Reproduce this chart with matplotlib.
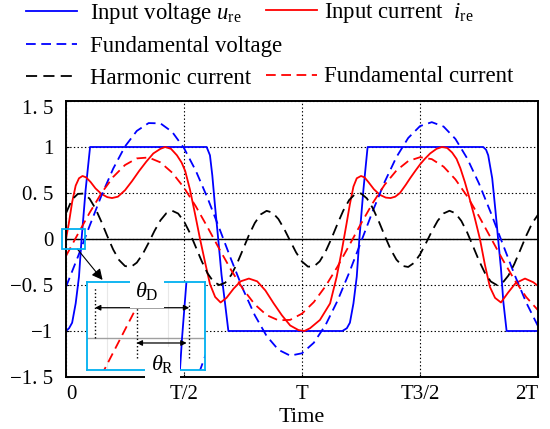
import numpy as np
import matplotlib
matplotlib.use('Agg')
import matplotlib.pyplot as plt
from matplotlib.lines import Line2D
from matplotlib.patches import Rectangle
from matplotlib.transforms import ScaledTranslation

plt.rcParams['font.family'] = ['Liberation Serif', 'DejaVu Serif']
plt.rcParams['mathtext.fontset'] = 'custom'
plt.rcParams['mathtext.rm'] = 'Liberation Serif'
plt.rcParams['mathtext.it'] = 'Liberation Serif:italic'
plt.rcParams['lines.scale_dashes'] = False

# time axis in units of T
x_ticks = [0, 0.5, 1, 1.5, 2]
x_labels = ['0', 'T/2', 'T', 'T3/2', '2T']
y_ticks = [-1.5, -1, -0.5, 0, 0.5, 1, 1.5]
y_labels = ['\u22121. 5', '\u22121', '\u22120. 5', '0', '0. 5', '1', '1. 5']

# input voltage u_re (trapezoid)
t_u = [0.000, 0.013, 0.026, 0.041, 0.055, 0.066, 0.083, 0.102,
       0.596, 0.610, 0.620, 0.631, 0.645, 0.659, 0.673, 0.688,
       1.171, 1.190, 1.203, 1.218, 1.232, 1.243, 1.260, 1.278,
       1.768, 1.780, 1.789, 1.806, 1.820, 1.831, 1.843, 1.853, 1.867, 2.000]
u_in = [-1.00, -0.97, -0.91, -0.70, -0.41, 0.00, 0.53, 1.00,
        1.00, 0.91, 0.69, 0.37, 0.00, -0.39, -0.68, -1.00,
        -1.00, -0.97, -0.91, -0.70, -0.41, 0.00, 0.53, 1.00,
        1.00, 0.97, 0.91, 0.66, 0.30, 0.00, -0.32, -0.68, -1.00, -1.00]

# input current i_re
t_i = [0.000, 0.012, 0.026, 0.041, 0.055, 0.070, 0.085, 0.104, 0.125, 0.150,
       0.175, 0.195, 0.220, 0.250, 0.280, 0.310, 0.340, 0.370, 0.400, 0.420,
       0.445, 0.470, 0.490, 0.505, 0.525, 0.547, 0.568, 0.589, 0.610, 0.632,
       0.655, 0.680, 0.710, 0.740, 0.775, 0.810, 0.845, 0.880, 0.915, 0.950,
       0.985, 1.010, 1.034, 1.076, 1.119, 1.147, 1.169, 1.189, 1.203, 1.218,
       1.232, 1.250, 1.265, 1.281, 1.305, 1.330, 1.355, 1.375, 1.395, 1.415,
       1.440, 1.458, 1.480, 1.500, 1.520, 1.543, 1.570, 1.593, 1.615, 1.636,
       1.655, 1.671, 1.690, 1.710, 1.730, 1.754, 1.775, 1.796, 1.818, 1.843,
       1.874, 1.905, 1.945, 1.980, 2.000]
i_in = [0.00, 0.17, 0.40, 0.58, 0.66, 0.685, 0.67, 0.62, 0.55, 0.49,
        0.455, 0.445, 0.46, 0.53, 0.63, 0.74, 0.84, 0.93, 0.98, 1.00,
        0.98, 0.91, 0.83, 0.74, 0.54, 0.27, 0.00, -0.25, -0.49, -0.63,
        -0.69, -0.64, -0.54, -0.46, -0.43, -0.46, -0.56, -0.70, -0.83, -0.94,
        -0.99, -1.00, -0.97, -0.88, -0.70, -0.41, -0.12, 0.17, 0.38, 0.57,
        0.66, 0.685, 0.67, 0.62, 0.54, 0.48, 0.45, 0.445, 0.46, 0.50,
        0.59, 0.66, 0.74, 0.81, 0.87, 0.93, 0.98, 1.00, 0.99, 0.94,
        0.87, 0.77, 0.62, 0.44, 0.25, 0.00, -0.28, -0.52, -0.64, -0.69,
        -0.58, -0.48, -0.43, -0.47, -0.51]

# fundamental voltage / current, sampled every T/20
t_f = np.linspace(0, 2, 41)
u_fund = [-0.520, -0.196, 0.142, 0.471, 0.765, 1.006, 1.175, 1.260, 1.257, 1.164,
          0.988, 0.742, 0.444, 0.114, -0.224, -0.546, -0.829, -1.054, -1.204, -1.268,
          -1.242, -1.128, -0.934, -0.674, -0.366, -0.032, 0.305, 0.619, 0.890, 1.098,
          1.227, 1.270, 1.222, 1.088, 0.876, 0.603, 0.286, -0.051, -0.384, -0.690,
          -0.947]
i_fund = [-0.184, 0.052, 0.285, 0.498, 0.675, 0.804, 0.876, 0.886, 0.833, 0.721,
          0.558, 0.355, 0.127, -0.110, -0.339, -0.544, -0.711, -0.827, -0.884, -0.879,
          -0.811, -0.686, -0.512, -0.302, -0.070, 0.167, 0.392, 0.589, 0.744, 0.847,
          0.889, 0.868, 0.786, 0.648, 0.464, 0.247, 0.012, -0.223, -0.443, -0.631,
          -0.774]

# harmonic current, sampled every T/40
t_h = np.linspace(0, 2, 81)
i_harm = [0.280, 0.427, 0.490, 0.494, 0.438, 0.330, 0.187, 0.031, -0.115, -0.229,
          -0.294, -0.304, -0.257, -0.164, -0.042, 0.088, 0.202, 0.280, 0.307, 0.277,
          0.192, 0.065, -0.088, -0.241, -0.374, -0.465, -0.500, -0.474, -0.392, -0.265,
          -0.113, 0.042, 0.174, 0.267, 0.306, 0.287, 0.217, 0.107, -0.021, -0.146,
          -0.245, -0.300, -0.300, -0.243, -0.136, 0.006, 0.162, 0.309, 0.424, 0.489,
          0.495, 0.441, 0.335, 0.194, 0.038, -0.109, -0.224, -0.292, -0.304, -0.259,
          -0.168, -0.046, 0.083, 0.198, 0.278, 0.307, 0.280, 0.197, 0.071, -0.081,
          -0.235, -0.369, -0.462, -0.500, -0.476, -0.396, -0.270, -0.119, 0.035, 0.170,
          0.264]

blue = '#0000ff'
red = '#ff0000'
cyan = '#00b0f0'
lw = 1.3
dash = (7, 4)

W, H = 550, 429
fig = plt.figure(figsize=(W / 100, H / 100), dpi=100)
ax = fig.add_axes([66 / W, 1 - 377 / H, 472 / W, 276 / H])


def draw_curves(a):
    lines = []
    lines.append(a.plot(t_u, u_in, color=blue, lw=lw)[0])
    lines.append(a.plot(t_i, i_in, color=red, lw=lw)[0])
    lines.append(a.plot(t_f, u_fund, color=blue, lw=lw, ls=(0, dash))[0])
    lines.append(a.plot(t_h, i_harm, color='k', lw=lw, ls=(0, (8, 4.5)))[0])
    lines.append(a.plot(t_f, i_fund, color=red, lw=lw, ls=(0, dash))[0])
    return lines


l_u, l_i, l_fv, l_h, l_fi = draw_curves(ax)
ax.axhline(0, color='k', lw=1.0, zorder=1.5)
ax.set_xlim(0, 2)
ax.set_ylim(-1.5, 1.5)
ax.set_xticks(x_ticks)
ax.set_xticklabels(x_labels)
ax.set_yticks(y_ticks)
ax.set_yticklabels(y_labels)
ax.grid(True, ls=':', color='k', lw=0.8)
ax.tick_params(direction='in', length=2, labelsize=15, width=0.8)
ax.tick_params(axis='x', pad=6)
ax.tick_params(axis='y', pad=9)
for s in ax.spines.values():
    s.set_linewidth(1.4)
ax.set_xlabel('Time', fontsize=16, labelpad=3)
xl = ax.get_xticklabels()
xl[0].set_ha('left')
xl[-1].set_ha('right')
yl = ax.get_yticklabels()
yl[-1].set_transform(yl[-1].get_transform() + ScaledTranslation(0, -0.06, fig.dpi_scale_trans))

# small cyan box at the origin and pointer to the zoomed view
ax.add_patch(Rectangle((-0.018, -0.108), 0.099, 0.216, fill=False,
                       ec=cyan, lw=1.3, clip_on=False, zorder=5))
ax.annotate('', xy=(0.155, -0.445), xytext=(0.048, -0.109),
            arrowprops=dict(arrowstyle='-|>', color='k', lw=0.8,
                            mutation_scale=16, shrinkA=0, shrinkB=0))

# zoomed view
axi = fig.add_axes([86.7 / W, 1 - 370 / H, 118.3 / W, 87.7 / H])
draw_curves(axi)
axi.axhline(0, color='#a0a0a0', lw=1.0, zorder=1)
axi.set_xlim(0.0241, 0.0761)
axi.set_ylim(-0.034, 0.060)
tr = axi.transAxes
for xf in (0.169, 0.686):
    axi.plot([xf, xf], [0, 1], color='#e8e8e8', lw=0.8, transform=tr, zorder=0.5)
axi.set_xticks([])
axi.set_yticks([])
for s in axi.spines.values():
    s.set_color(cyan)
    s.set_linewidth(1.3)
axi.plot([0.07, 0.07], [0.365, 0.946], color='k', ls=':', lw=1.0, transform=tr)
axi.plot([0.422, 0.422], [0.137, 0.707], color='k', ls=':', lw=1.0, transform=tr)
axi.plot([0.867, 0.867], [0.137, 0.775], color='k', ls=':', lw=1.0, transform=tr)
axi.annotate('', xy=(0.07, 0.71), xytext=(0.867, 0.71), xycoords=tr,
             arrowprops=dict(arrowstyle='<|-|>', color='k', lw=0.9,
                             mutation_scale=8, shrinkA=0, shrinkB=0))
axi.annotate('', xy=(0.422, 0.308), xytext=(0.845, 0.308), xycoords=tr,
             arrowprops=dict(arrowstyle='<|-|>', color='k', lw=0.9,
                             mutation_scale=8, shrinkA=0, shrinkB=0))
axi.text(0.51, 0.90, r'$\theta_{\rm D}$', transform=tr, fontsize=16,
         ha='center', va='center', zorder=6,
         bbox=dict(fc='white', ec='none', pad=4), clip_on=False)
axi.text(0.64, 0.07, r'$\theta_{\rm R}$', transform=tr, fontsize=16,
         ha='center', va='center', zorder=6,
         bbox=dict(fc='white', ec='none', pad=4), clip_on=False)

# legend rows above the axes
leg_kw = dict(loc='upper left', frameon=False, fontsize=16.4, borderpad=0,
              borderaxespad=0, handlelength=2.25, labelspacing=0.45)
blank = Line2D([], [], color='none')
leg1 = fig.legend([l_u, l_fv, l_h],
                  [r'Input voltage $u_{\rm re}$', 'Fundamental voltage', 'Harmonic current'],
                  bbox_to_anchor=(26 / W, 1 - 1 / H), handletextpad=0.57, **leg_kw)
leg2 = fig.legend([l_i, blank, l_fi],
                  [r'Input current  $i_{\rm re}$', ' ', 'Fundamental current'],
                  bbox_to_anchor=(266 / W, 1 - 1 / H), handletextpad=0.3, **leg_kw)

fig.savefig('out.png', dpi=100)
